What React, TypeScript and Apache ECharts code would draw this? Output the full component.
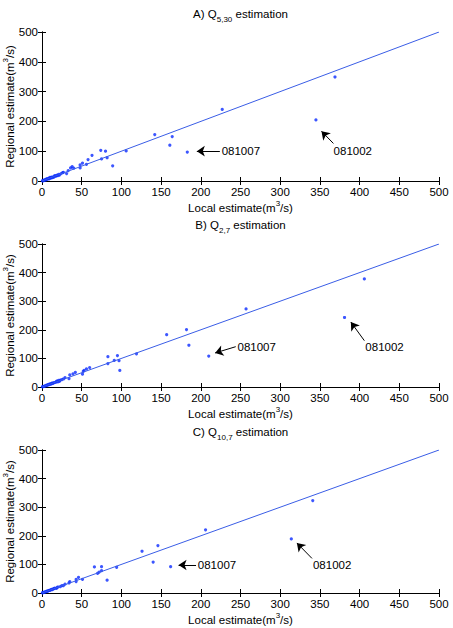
import React, { useEffect, useRef } from 'react';
import * as echarts from 'echarts';

// Local vs regional flood estimates (m³/s) for three quantiles
const pointsA: number[][] = [
  [0.5, 0.5], [1, 1.5], [2, 1.5], [2.5, 3], [3, 2.5], [4, 4.5], [5, 4], [5.5, 6], [6, 7], [7, 6],
  [8, 8.5], [9, 7.5], [9.5, 10], [10, 12], [11, 9.5], [12, 13], [13, 11], [14, 14], [15, 13],
  [16, 18], [17, 16], [18, 17], [19, 20], [20, 18], [21, 22], [22, 20], [24, 25], [26, 28],
  [27, 29], [31, 25], [33, 35], [36, 44], [38, 48], [40, 43], [48, 44], [48, 54], [51, 60],
  [56, 56], [58, 72], [63, 86], [74, 103], [75, 74], [80, 100], [82, 78], [89, 51], [106, 101],
  [142, 156], [161, 120], [164, 149], [183, 97], [227, 240], [345, 205], [369, 349],
];

const pointsB: number[][] = [
  [0.5, 0.5], [1, 1], [2, 2.5], [3, 2], [4, 4], [5, 5.5], [6, 5], [7, 8], [8, 7], [9, 10],
  [10, 9], [11, 12], [12, 11], [13, 14], [14, 13], [15, 15], [17, 16], [18, 19], [19, 21],
  [20, 18], [21, 23], [22, 20], [23, 24], [25, 26], [27, 28], [29, 33], [34, 29], [35, 42],
  [39, 46], [42, 51], [51, 45], [52, 55], [53, 58], [56, 63], [60, 68], [83, 82], [83, 106],
  [91, 93], [95, 110], [97, 92], [98, 58], [119, 116], [157, 183], [182, 201], [185, 146],
  [210, 108], [257, 273], [381, 243], [406, 378],
];

const pointsC: number[][] = [
  [0.5, 0.5], [1, 1.5], [2, 2], [3, 3], [4, 3.5], [5, 5], [6, 6.5], [7, 6], [8, 8], [9, 9.5],
  [10, 9], [11, 11], [12, 13], [13, 12], [14, 14], [15, 15], [16, 17], [18, 16], [19, 19],
  [20, 21], [23, 22], [25, 26], [27, 26], [29, 31], [34, 35], [35, 40], [43, 40], [43, 48],
  [46, 55], [51, 48], [66, 91], [70, 69], [72, 73], [75, 78], [75, 92], [82, 45], [94, 90],
  [126, 146], [140, 108], [146, 166], [162, 92], [206, 221], [314, 189], [341, 323],
];

// 1:1 reference line
const identityLine: number[][] = [[0, 0], [500, 500]];

// Station call-outs: label anchor, arrow tail and arrow tip (data units)
const calloutsA = [
  { label: '081007', text: [225, 100], tail: [224, 100], tip: [195, 100] },
  { label: '081002', text: [366, 100], tail: [367, 126], tip: [352, 167] },
];
const calloutsB = [
  { label: '081007', text: [245, 141], tail: [244, 141], tip: [218, 119] },
  { label: '081002', text: [406, 141], tail: [406, 162], tip: [389, 227] },
];
const calloutsC = [
  { label: '081007', text: [195, 98], tail: [194, 98], tip: [172, 98] },
  { label: '081002', text: [340, 98], tail: [340, 121], tip: [321, 175] },
];

const panelPrefixes = ['A) Q', 'B) Q', 'C) Q'];
const panelSubscripts = ['5,30', '2,7', '10,7'];
const xTicks = { min: 0, max: 500, interval: 50 };
const yTicks = { min: 0, max: 500, interval: 100 };
const xName = 'Local estimate(m{sup|3}/s)';
const yName = 'Regional estimate(m{sup|3}/s)';

const FONT = '"Liberation Sans", Arial, Helvetica, sans-serif';
const DOT = '#0b2cff';
const LINE = '#3a5de6';

const grids = [
  { left: 42, top: 32, width: 397, height: 149 },
  { left: 42, top: 244, width: 397, height: 143 },
  { left: 42, top: 450, width: 397, height: 143 },
];
const titleTops = [5, 216, 423];

export default function App() {
  const ref = useRef<HTMLDivElement>(null);

  useEffect(() => {
    if (!ref.current) return;
    const chart = echarts.init(ref.current, undefined, { renderer: 'svg' });

    const supRich = {
      sup: { fontSize: 8, lineHeight: 8, verticalAlign: 'top', fontFamily: FONT, color: '#000' },
    };
    const axisLine = { show: true, lineStyle: { color: '#000', width: 1 } };
    const tick = { show: true, inside: true, length: 4, lineStyle: { color: '#000', width: 1 } };
    const labelStyle = { color: '#000', fontSize: 11.5, fontFamily: FONT };

    const xAxis: any[] = [];
    const yAxis: any[] = [];
    const series: any[] = [];
    const allPoints = [pointsA, pointsB, pointsC];
    const allCallouts = [calloutsA, calloutsB, calloutsC];

    grids.forEach((_, i) => {
      xAxis.push({
        type: 'value', gridIndex: i, position: 'bottom', ...xTicks,
        axisLine, axisTick: tick, splitLine: { show: false },
        axisLabel: { ...labelStyle, margin: 5 },
        name: xName, nameLocation: 'middle', nameGap: 18, nameMoveOverlap: false,
        nameTextStyle: { ...labelStyle, lineHeight: 18, rich: supRich },
      });
      xAxis.push({
        type: 'value', gridIndex: i, position: 'top', ...xTicks,
        axisLine, axisTick: tick, splitLine: { show: false }, axisLabel: { show: false },
      });
      yAxis.push({
        type: 'value', gridIndex: i, position: 'left', ...yTicks,
        axisLine, axisTick: tick, splitLine: { show: false },
        axisLabel: { ...labelStyle, margin: 4 },
        name: yName, nameLocation: 'middle', nameGap: 23, nameRotate: 90, nameMoveOverlap: false,
        nameTextStyle: { ...labelStyle, lineHeight: 18, rich: supRich },
      });
      yAxis.push({
        type: 'value', gridIndex: i, position: 'right', ...yTicks,
        axisLine, axisTick: tick, splitLine: { show: false }, axisLabel: { show: false },
      });

      const callouts = allCallouts[i];
      series.push({
        type: 'line', xAxisIndex: i * 2, yAxisIndex: i * 2, data: identityLine,
        symbol: 'none', silent: true, lineStyle: { color: LINE, width: 1 },
      });
      series.push({
        type: 'scatter', xAxisIndex: i * 2, yAxisIndex: i * 2, data: allPoints[i],
        symbol: 'circle', symbolSize: 3.2, itemStyle: { color: DOT }, silent: true,
        markLine: {
          silent: true, symbol: ['none', 'arrow'], symbolSize: 8,
          lineStyle: { color: '#000', width: 1, type: 'solid' },
          itemStyle: { color: '#000' },
          label: { show: false }, emphasis: { disabled: true },
          data: callouts.map((c) => [{ coord: c.tail }, { coord: c.tip }]),
        },
        markPoint: {
          silent: true, symbol: 'circle', symbolSize: 0,
          itemStyle: { color: 'transparent' },
          label: { show: true, position: 'right', distance: 1, formatter: '{b}', ...labelStyle },
          data: callouts.map((c) => ({ name: c.label, coord: c.text })),
        },
      });
    });

    chart.setOption({
      animation: false,
      backgroundColor: '#fff',
      title: grids.map((g, i) => ({
        text: `${panelPrefixes[i]}{sub|${panelSubscripts[i]}} estimation`,
        left: g.left + g.width / 2,
        textAlign: 'center',
        top: titleTops[i],
        padding: 0,
        textStyle: {
          color: '#000', fontSize: 11.5, fontWeight: 'normal', fontFamily: FONT, lineHeight: 18,
          rich: { sub: { fontSize: 8, lineHeight: 8, verticalAlign: 'bottom', fontFamily: FONT, color: '#000' } },
        },
      })),
      grid: grids.map((g) => ({ ...g, containLabel: false, outerBoundsMode: 'none' })),
      xAxis,
      yAxis,
      series,
    });

    return () => chart.dispose();
  }, []);

  return (
    <div
      ref={ref}
      style={{ position: 'absolute', left: 0, top: 0, width: 453, height: 628, background: '#fff' }}
    />
  );
}
